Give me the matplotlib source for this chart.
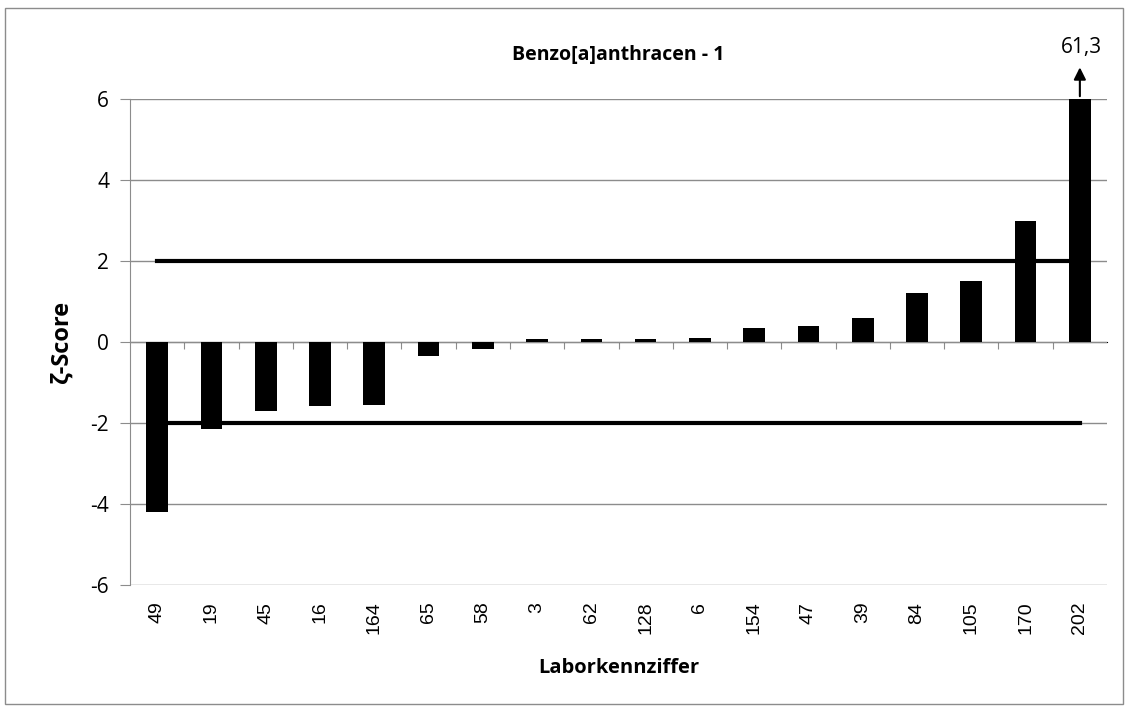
import numpy as np
import matplotlib.pyplot as plt
from matplotlib.patches import Rectangle

# Laborkennziffern and zeta scores (202 is clipped at 6, real value 61,3)
labs = ['49', '19', '45', '16', '164', '65', '58', '3', '62', '128', '6',
        '154', '47', '39', '84', '105', '170', '202']
scores = [-4.2, -2.15, -1.7, -1.57, -1.55, -0.35, -0.18, 0.07, 0.07, 0.08,
          0.1, 0.35, 0.4, 0.6, 1.2, 1.5, 3.0, 6.0]
limits = [2, -2]
clip_label = '61,3'

plt.rcParams['font.family'] = ['Open Sans', 'DejaVu Sans']
plt.rcParams['axes.unicode_minus'] = False

fig = plt.figure(figsize=(11.28, 7.06), dpi=100)
ax = fig.add_axes([130 / 1128, 1 - 585 / 706, (1107 - 130) / 1128, (585 - 99) / 706])

x = np.arange(len(labs))
ax.bar(x, scores, width=0.4, color='black', zorder=3)
for lim in limits:
    ax.plot([x[0], x[-1]], [lim, lim], color='black', lw=3, zorder=4)

ax.set_xlim(-0.5, len(labs) - 0.5)
ax.set_ylim(-6, 6)
ax.set_yticks(np.arange(-6, 7, 2))
ax.yaxis.grid(True, color='#8c8c8c', lw=1)
ax.set_axisbelow(True)
ax.tick_params(axis='y', direction='out', length=7, color='#8c8c8c', labelsize=15, pad=8)

# category labels at the bottom, no ticks
ax.set_xticks(x)
ax.set_xticklabels(labs, rotation=90, fontsize=14, family=['Liberation Sans'])
ax.tick_params(axis='x', length=0, pad=12)

for s in ['top', 'right', 'bottom']:
    ax.spines[s].set_visible(False)
ax.spines['left'].set_color('#8c8c8c')

# zero axis with ticks between categories
sec = ax.secondary_xaxis(0.5)
sec.set_xticks(np.arange(0.5, len(labs) - 1, 1))
sec.set_xticklabels([])
sec.xaxis.set_ticks_position('bottom')
sec.tick_params(direction='out', length=5, color='#8c8c8c')
sec.spines['bottom'].set_color('#8c8c8c')

ax.set_ylabel('ζ-Score', fontsize=17, fontweight='bold', labelpad=12)
ax.set_xlabel('Laborkennziffer', fontsize=14.5, fontweight='bold', labelpad=17)
ax.set_title('Benzo[a]anthracen - 1', fontsize=14, fontweight='bold', pad=28)

ax.annotate('', xy=(x[-1], 6.85), xytext=(x[-1], 6), annotation_clip=False,
            arrowprops=dict(arrowstyle='-|>', color='black', lw=1.5, mutation_scale=18))
ax.text(x[-1] + 0.02, 7.0, clip_label, ha='center', va='bottom', fontsize=15, clip_on=False)

fig.patches.append(Rectangle((5 / 1128, 2 / 706), 1118 / 1128, 696 / 706,
                             transform=fig.transFigure, fill=False, ec='#8c8c8c', lw=1))

fig.savefig('out.png', dpi=100)
